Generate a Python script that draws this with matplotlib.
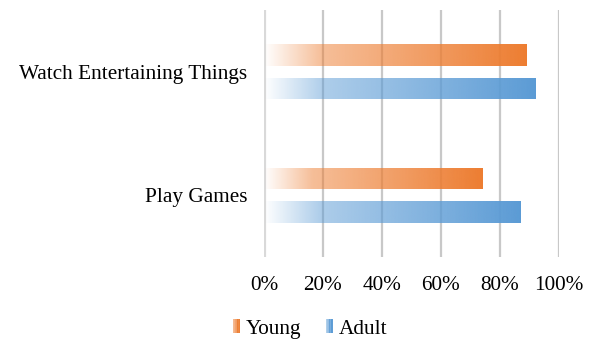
import numpy as np
import matplotlib.pyplot as plt
from matplotlib.colors import to_rgb
from matplotlib.patches import Rectangle
from matplotlib.legend_handler import HandlerBase

categories = ["Watch Entertaining Things", "Play Games"]
series_names = ["Young", "Adult"]
young = [0.89, 0.74]
adult = [0.92, 0.87]
tick_values = [0, 0.2, 0.4, 0.6, 0.8, 1.0]
tick_labels = ["0%", "20%", "40%", "60%", "80%", "100%"]

colors = {"Young": "#ED7D31", "Adult": "#5B9BD5"}

plt.rcParams["font.family"] = ["Liberation Serif", "DejaVu Serif"]
FS = 15.3

fig = plt.figure(figsize=(5.92, 3.41), dpi=100)
ax = fig.add_axes([264 / 592, 1 - 257 / 341, (559 - 264) / 592, (257 - 10) / 341])


def alpha_ramp(t):
    # fast fade-in over the first fifth, then a slow ramp to full strength
    return np.where(t < 0.22, t / 0.22 * 0.5, 0.5 + (t - 0.22) / 0.78 * 0.5)


def gradient_rgba(color, n=256):
    t = np.linspace(0, 1, n)
    rgb = np.array(to_rgb(color))
    img = np.zeros((1, n, 4))
    img[0, :, :3] = rgb
    img[0, :, 3] = alpha_ramp(t)
    return img


height = 0.176
offset = 0.135
ypos = np.arange(len(categories))

for name, vals, off in [("Young", young, -offset), ("Adult", adult, offset)]:
    bars = ax.barh(ypos + off, vals, height=height, color="none", zorder=2)
    for rect in bars:
        x0, y0 = rect.get_x(), rect.get_y()
        w, h = rect.get_width(), rect.get_height()
        im = ax.imshow(gradient_rgba(colors[name]), aspect="auto",
                       extent=(x0, x0 + w, y0 + h, y0), zorder=2,
                       interpolation="bilinear")
        im.set_clip_path(rect)

# vertical gridlines
for v in tick_values:
    if v == 0:
        ax.axvline(v, color="#D9D9D9", lw=3.0, zorder=1)
    else:
        ax.axvline(v, color="#C8C8C8", lw=1.6, zorder=1)

ax.set_xlim(0, 1.0)
ax.set_ylim(1.5, -0.5)
ax.set_xticks(tick_values)
ax.set_xticklabels(tick_labels, fontsize=FS)
ax.set_yticks(ypos)
ax.set_yticklabels(categories, fontsize=FS)
ax.tick_params(length=0, pad=14, axis="x")
ax.tick_params(length=0, pad=12, axis="y")
for s in ax.spines.values():
    s.set_visible(False)


class GradientSwatch(HandlerBase):
    def create_artists(self, legend, orig_handle, xdescent, ydescent,
                       width, height, fontsize, trans):
        color = orig_handle.get_facecolor()[:3]
        n = 10
        t = (np.arange(n) + 0.5) / n
        alphas = 0.45 + 0.55 * t
        arts = []
        for i in range(n):
            r = Rectangle((-xdescent + width * i / n, -ydescent), width / n + 0.1, height,
                          facecolor=color, alpha=alphas[i], edgecolor="none",
                          transform=trans)
            arts.append(r)
        return arts


handles = [Rectangle((0, 0), 1, 1, facecolor=colors[n]) for n in series_names]
leg = fig.legend(handles, series_names, loc="center", bbox_to_anchor=(0.524, 1 - 329 / 341),
                 ncol=2, frameon=False, fontsize=FS, handlelength=0.33, handleheight=0.6,
                 handletextpad=0.3, columnspacing=1.15,
                 handler_map={Rectangle: GradientSwatch()})

fig.savefig("out.png", dpi=100)
